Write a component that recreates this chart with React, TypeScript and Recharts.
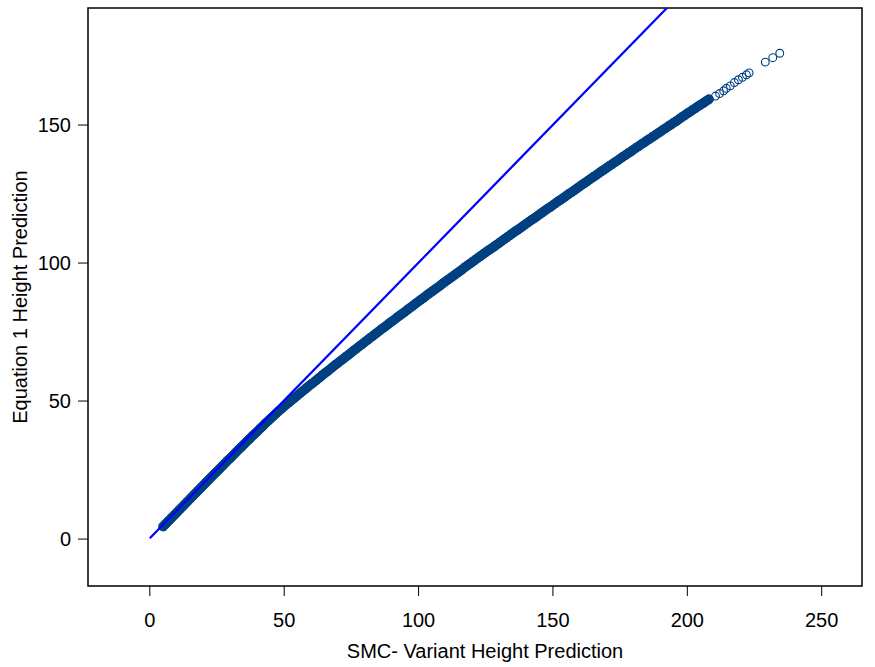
import React from "react";
import {
  ScatterChart,
  Scatter,
  XAxis,
  YAxis,
  ReferenceArea,
} from "recharts";

// dense part of the cloud (SMC-variant vs equation 1)
const bandX = [
  5, 6, 7, 8, 9, 10, 11, 12, 13, 14, 15, 16, 17, 18, 19, 20, 21, 22, 23, 24, 25, 26, 27, 28, 29, 30,
  31, 32, 33, 34, 35, 36, 37, 38, 39, 40, 41, 42, 43, 44, 45, 46, 47, 48, 49, 50,
  51, 52, 53, 54, 55, 56, 57, 58, 59, 60,
  61, 62, 63, 64, 65, 66, 67, 68, 69, 70,
  71, 72, 73, 74, 75, 76, 77, 78, 79, 80,
  81, 82, 83, 84, 85, 86, 87, 88, 89, 90,
  91, 92, 93, 94, 95, 96, 97, 98, 99, 100,
  101, 102, 103, 104, 105, 106, 107, 108, 109, 110,
  111, 112, 113, 114, 115, 116, 117, 118, 119, 120,
  121, 122, 123, 124, 125, 126, 127, 128, 129, 130,
  131, 132, 133, 134, 135, 136, 137, 138, 139, 140,
  141, 142, 143, 144, 145, 146, 147, 148, 149, 150,
  151, 152, 153, 154, 155, 156, 157, 158, 159, 160,
  161, 162, 163, 164, 165, 166, 167, 168, 169, 170,
  171, 172, 173, 174, 175, 176, 177, 178, 179, 180,
  181, 182, 183, 184, 185, 186, 187, 188, 189, 190,
  191, 192, 193, 194, 195, 196, 197, 198, 199, 200,
  201, 202, 203, 204, 205, 206, 207, 208,
];
const bandY = [
  4.6, 5.6, 6.6, 7.6, 8.6, 9.6, 10.6, 11.6, 12.6, 13.6, 14.6, 15.6, 16.6, 17.6, 18.6, 19.6, 20.6, 21.6, 22.6, 23.6, 24.5, 25.5, 26.5, 27.5, 28.5, 29.4,
  30.4, 31.4, 32.4, 33.3, 34.3, 35.3, 36.2, 37.2, 38.1, 39.0, 40.0, 40.9, 41.9, 42.8, 43.7, 44.6, 45.5, 46.4, 47.2, 48.1,
  48.9, 49.7, 50.5, 51.3, 52.1, 52.9, 53.7, 54.5, 55.3, 56.1,
  56.8, 57.6, 58.4, 59.2, 60.0, 60.7, 61.5, 62.3, 63.1, 63.8,
  64.6, 65.3, 66.1, 66.8, 67.6, 68.4, 69.1, 69.9, 70.6, 71.4,
  72.1, 72.9, 73.6, 74.4, 75.1, 75.9, 76.6, 77.3, 78.1, 78.8,
  79.5, 80.3, 81.0, 81.7, 82.4, 83.2, 83.9, 84.6, 85.4, 86.1,
  86.8, 87.5, 88.3, 89.0, 89.7, 90.4, 91.1, 91.8, 92.6, 93.3,
  94.0, 94.7, 95.4, 96.1, 96.8, 97.5, 98.3, 99.0, 99.7, 100.4,
  101.1, 101.8, 102.5, 103.2, 103.9, 104.6, 105.2, 105.9, 106.6, 107.3,
  108.0, 108.7, 109.4, 110.1, 110.8, 111.5, 112.1, 112.8, 113.5, 114.2,
  114.9, 115.6, 116.2, 116.9, 117.6, 118.3, 119.0, 119.7, 120.3, 121.0,
  121.7, 122.4, 123.0, 123.7, 124.4, 125.1, 125.7, 126.4, 127.1, 127.8,
  128.5, 129.1, 129.8, 130.5, 131.2, 131.8, 132.5, 133.2, 133.8, 134.5,
  135.2, 135.8, 136.5, 137.1, 137.8, 138.5, 139.1, 139.8, 140.4, 141.1,
  141.8, 142.4, 143.1, 143.7, 144.4, 145.0, 145.7, 146.3, 147.0, 147.6,
  148.3, 148.9, 149.6, 150.2, 150.9, 151.5, 152.2, 152.9, 153.5, 154.2,
  154.8, 155.5, 156.1, 156.8, 157.4, 158.0, 158.7, 159.3,
];

// the few loose points at the top end
const tailX = [210.5, 212, 213.5, 214.5, 216, 217.5, 219, 220.5, 222, 223, 229, 231.8, 234.4];
const tailY = [160.5, 161.4, 162.4, 163.3, 164.2, 165.4, 166.4, 167.3, 168.2, 168.9, 172.8, 174.4, 176];

// 1:1 line
const lineX = [0, 193];
const lineY = [0.3, 193];

const xTicks = [0, 50, 100, 150, 200, 250];
const yTicks = [0, 50, 100, 150];

const zip = (xs: number[], ys: number[]) => xs.map((x, i) => ({ x, y: ys[i] }));
const bandData = zip(bandX, bandY);
const tailData = zip(tailX, tailY);
const lineData = zip(lineX, lineY);

const FONT = "'Liberation Sans', Arial, sans-serif";
const DOT = "#004080";

const BandDot = (props: any) => (
  <circle cx={props.cx} cy={props.cy} r={4.6} fill={DOT} stroke={DOT} strokeWidth={1} />
);
const TailDot = (props: any) => (
  <circle cx={props.cx} cy={props.cy} r={3.9} fill="none" stroke={DOT} strokeWidth={1.1} />
);
const NoDot = () => <g />;

export default function App() {
  return (
    <div style={{ position: "absolute", left: 0, top: 0, background: "#fff" }}>
      <ScatterChart
        width={875}
        height={667}
        margin={{ top: 8, right: 13, bottom: 0, left: 0 }}
        style={{ fontFamily: FONT }}
      >
        <XAxis
          type="number"
          dataKey="x"
          domain={[-23, 265]}
          ticks={xTicks}
          allowDataOverflow
          axisLine={false}
          tickSize={10}
          tickMargin={17}
          tickLine={{ stroke: "#000", strokeWidth: 1 }}
          tick={{ fill: "#000", fontSize: 20, fontFamily: FONT }}
          height={81}
          label={{
            value: "SMC- Variant Height Prediction",
            position: "insideBottom",
            offset: 9,
            dx: 10,
            fill: "#000",
            fontSize: 20,
            fontFamily: FONT,
          }}
        />
        <YAxis
          type="number"
          dataKey="y"
          domain={[-17, 192.4]}
          ticks={yTicks}
          allowDataOverflow
          axisLine={false}
          width={88}
          tickSize={10}
          tickMargin={7}
          tickLine={{ stroke: "#000", strokeWidth: 1 }}
          tick={{ fill: "#000", fontSize: 20, fontFamily: FONT }}
          label={{
            value: "Equation 1 Height Prediction",
            angle: -90,
            position: "insideLeft",
            offset: 20,
            fill: "#000",
            fontSize: 20,
            fontFamily: FONT,
            style: { textAnchor: "middle" },
          }}
        />
        <ReferenceArea
          x1={-23}
          x2={265}
          y1={-17}
          y2={192.4}
          fill="none"
          stroke="#000"
          strokeWidth={1.5}
          ifOverflow="visible"
        />
        <Scatter data={bandData} shape={BandDot} isAnimationActive={false} />
        <Scatter data={tailData} shape={TailDot} isAnimationActive={false} />
        <Scatter
          data={lineData}
          shape={NoDot}
          line={{ stroke: "#0000ff", strokeWidth: 2.2 }}
          isAnimationActive={false}
        />
      </ScatterChart>
    </div>
  );
}
